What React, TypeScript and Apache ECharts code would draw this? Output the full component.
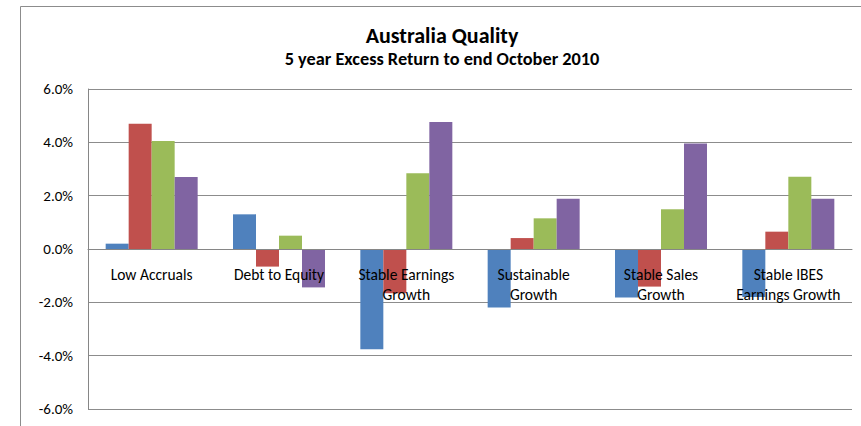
import React, { useEffect, useRef } from "react";
import * as echarts from "echarts";

const categories = [
  "Low Accruals",
  "Debt to Equity",
  "Stable Earnings\nGrowth",
  "Sustainable\nGrowth",
  "Stable Sales\nGrowth",
  "Stable IBES\nEarnings Growth",
];
const seriesA = [0.2, 1.3, -3.76, -2.19, -1.82, -1.8];
const seriesB = [4.7, -0.66, -1.66, 0.41, -1.41, 0.65];
const seriesC = [4.05, 0.5, 2.84, 1.15, 1.49, 2.71];
const seriesD = [2.7, -1.44, 4.76, 1.88, 3.96, 1.88];
const colors = ["#4F81BD", "#C0504D", "#9BBB59", "#8064A2"];
const titleText = "Australia Quality";
const subtitleText = "5 year Excess Return to end October 2010";

export default function App() {
  const ref = useRef<HTMLDivElement>(null);
  useEffect(() => {
    if (!ref.current) return;
    const chart = echarts.init(ref.current, undefined, { renderer: "svg" });
    const font = "Carlito, 'Liberation Sans', Arial, sans-serif";
    const mk = (data: number[], i: number) => ({
      type: "bar",
      data,
      barWidth: 23,
      barGap: "0%",
      barCategoryGap: "27.5%",
      itemStyle: { color: colors[i] },
      z: 2,
    });
    chart.setOption({
      animation: false,
      backgroundColor: "#ffffff",
      textStyle: { fontFamily: font },
      graphic: [
        {
          type: "rect",
          shape: { x: 20.5, y: 6.5, width: 900, height: 500 },
          style: { fill: "none", stroke: "#8c8c8c", lineWidth: 1 },
          silent: true,
        },
      ],
      title: [
        {
          text: titleText,
          left: 437,
          top: 19,
          textAlign: "center",
          textStyle: { fontSize: 22, fontWeight: "bold", color: "#000", fontFamily: font },
        },
        {
          text: subtitleText,
          left: 437,
          top: 45,
          textAlign: "center",
          textStyle: { fontSize: 18.3, fontWeight: "bold", color: "#000", fontFamily: font },
        },
      ],
      grid: { left: 88, right: 9, top: 89, height: 320, containLabel: false, outerBoundsMode: "none" },
      xAxis: {
        type: "category",
        data: categories,
        z: 3,
        position: "bottom",
        offset: -160,
        axisLine: { onZero: false, lineStyle: { color: "#868686", width: 1 } },
        axisTick: { show: false },
        axisLabel: {
          color: "#000",
          fontSize: 15.5,
          margin: 15,
          lineHeight: 20,
          interval: 0,
          fontFamily: font,
        },
      },
      yAxis: {
        type: "value",
        min: -6,
        max: 6,
        interval: 2,
        axisLine: { show: true, lineStyle: { color: "#868686" } },
        axisTick: { show: false },
        splitLine: { lineStyle: { color: "#8c8c8c", width: 1 } },
        axisLabel: {
          color: "#000",
          fontSize: 15,
          margin: 15,
          fontFamily: font,
          formatter: (v: number) => v.toFixed(1) + "%",
        },
      },
      series: [mk(seriesA, 0), mk(seriesB, 1), mk(seriesC, 2), mk(seriesD, 3)],
    });
    return () => chart.dispose();
  }, []);
  return (
    <div
      ref={ref}
      style={{ position: "absolute", left: 0, top: 0, width: 861, height: 426 }}
    />
  );
}
